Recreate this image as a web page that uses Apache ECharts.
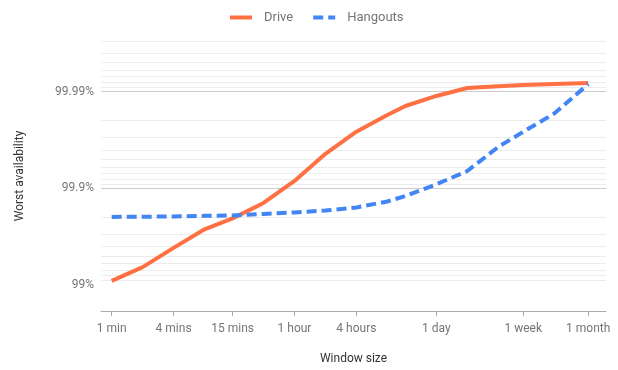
<!DOCTYPE html>
<html>
<head>
<meta charset="utf-8">
<script src="https://cdn.jsdelivr.net/npm/echarts@6/dist/echarts.min.js"></script>
<style>html,body{margin:0;padding:0;background:#fff}#c{width:618px;height:370px}</style>
</head>
<body>
<div id="c"></div>
<script>
// Window sizes in minutes
var windowMinutes = [1, 2, 4, 8, 15, 30, 60, 120, 240, 480, 720, 1440, 2880, 5760, 10080, 20160, 43200];
// Worst availability (%) per window
var driveAvailability = [99.093, 99.345, 99.586, 99.734, 99.795, 99.858, 99.916, 99.956, 99.974, 99.9825, 99.9859, 99.9889, 99.9908, 99.9912, 99.99143, 99.99163, 99.99183];
var hangoutsAvailability = [99.802, 99.803, 99.8045, 99.807, 99.809, 99.8157, 99.822, 99.830, 99.842, 99.863, 99.880, 99.909, 99.9337, 99.9626, 99.9739, 99.9831, 99.99163];
// X tick labels
var xTickValues = [1, 4, 15, 60, 240, 1440, 10080, 43200];
var xTickLabels = ['1 min', '4 mins', '15 mins', '1 hour', '4 hours', '1 day', '1 week', '1 month'];
// Y tick labels (availability %)
var yTickAvailability = [99.99, 99.9, 99];
// Gridlines (downtime %) : minor at 2..9 multiples, major at powers of ten
var yGridDowntime = [0.003,0.004,0.005,0.006,0.007,0.008,0.009,0.01,0.02,0.03,0.04,0.05,0.06,0.07,0.08,0.09,0.1,0.2,0.3,0.4,0.5,0.6,0.7,0.8,0.9,1];

function downtime(a){ return +(100 - a).toFixed(6); }
function pairs(avail){ return windowMinutes.map(function(w,i){ return [w, downtime(avail[i])]; }); }

var font = 'Roboto, "Noto Sans", Arial, sans-serif';
var minor = '#ececec', major = '#cccccc';
var gridColors = [minor,minor,minor,minor,minor,minor,minor,major,minor];

var chart = echarts.init(document.getElementById('c'), null, {renderer:'canvas'});
chart.setOption({
  animation: false,
  textStyle: {fontFamily: font},
  legend: {
    left: 223, top: 6,
    itemWidth: 22, itemHeight: 14, itemGap: 18,
    itemStyle: {opacity: 0},
    lineStyle: {width: 4},
    textStyle: {fontFamily: font, fontSize: 13, color: '#757575', padding: [0,0,0,7]},
    data: ['Drive', 'Hangouts']
  },
  grid: {left: 101, right: 12, top: 41, bottom: 59},
  xAxis: {
    type: 'log', logBase: 10, min: 0.787, max: 64300,
    name: 'Window size', nameLocation: 'middle', nameGap: 42,
    nameTextStyle: {fontFamily: font, fontSize: 12, color: '#333'},
    axisLine: {show: true, lineStyle: {color: '#aaaaaa', width: 1}},
    axisTick: {show: true, length: 5, lineStyle: {color: '#aaaaaa'}, customValues: xTickValues},
    axisLabel: {customValues: xTickValues, margin: 12, fontFamily: font, fontSize: 12, color: '#757575',
      formatter: function(v){ var i = xTickValues.indexOf(v); if (i < 0) { for (var k=0;k<xTickValues.length;k++){ if (Math.abs(xTickValues[k]-v)/xTickValues[k] < 1e-6) i = k; } } return i >= 0 ? xTickLabels[i] : ''; }},
    splitLine: {show: false}
  },
  yAxis: {
    type: 'log', logBase: 10, inverse: true, min: 0.003, max: 1.86,
    name: 'Worst availability', nameLocation: 'middle', nameGap: 75, nameRotate: 90,
    nameTextStyle: {fontFamily: font, fontSize: 12, color: '#333'},
    axisLine: {show: false},
    axisTick: {show: false, customValues: yGridDowntime},
    axisLabel: {customValues: yTickAvailability.map(downtime), margin: 7, fontFamily: font, fontSize: 12, color: '#757575',
      formatter: function(v){ return parseFloat((100 - v).toFixed(4)) + '%'; }},
    splitLine: {show: true, showMinLine: true, showMaxLine: false, lineStyle: {color: gridColors, width: 1}}
  },
  series: [
    {name: 'Drive', type: 'line', data: pairs(driveAvailability), showSymbol: false, symbol: 'none',
     lineStyle: {color: '#FF7043', width: 4}, itemStyle: {color: '#FF7043'}},
    {name: 'Hangouts', type: 'line', data: pairs(hangoutsAvailability), showSymbol: false, symbol: 'none',
     lineStyle: {color: '#4285F4', width: 4, type: [10, 5]}, itemStyle: {color: '#4285F4'}}
  ]
});
</script>
</body>
</html>
